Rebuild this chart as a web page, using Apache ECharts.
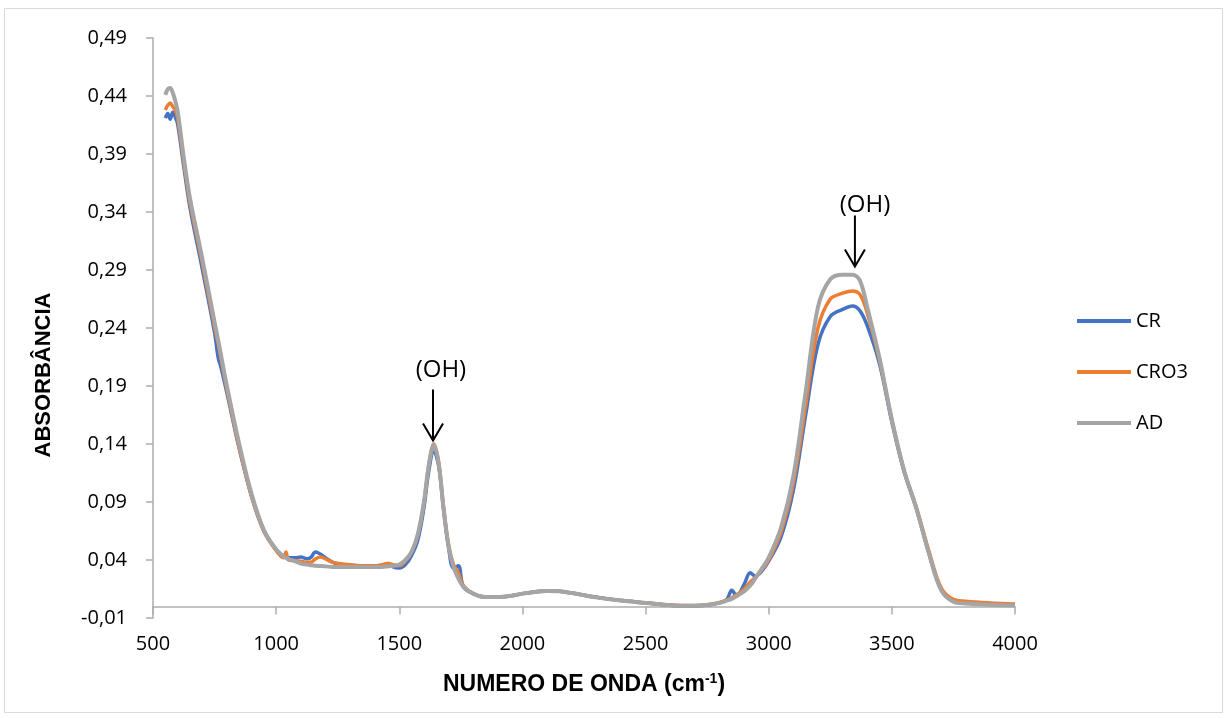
<!DOCTYPE html>
<html>
<head>
<meta charset="utf-8">
<script src="https://cdn.jsdelivr.net/npm/echarts@6/dist/echarts.min.js"></script>
<style>
  html, body { margin: 0; padding: 0; background: #fff; }
  #chart { width: 1228px; height: 718px; }
</style>
</head>
<body>
<div id="chart"></div>
<script>
// wavenumber grid (cm-1)
const wn = [550, 560, 570, 580, 590, 600, 625, 650, 700, 750, 765, 775, 800, 850, 900, 950,
  1000, 1030, 1040, 1050, 1075, 1100, 1125, 1140, 1160, 1180, 1200, 1230, 1270, 1300, 1350, 1400,
  1430, 1455, 1475, 1500, 1525, 1550, 1575, 1600, 1620, 1640, 1660, 1680, 1700, 1720, 1740, 1760,
  1800, 1850, 1900, 1950, 2000, 2050, 2100, 2150, 2200, 2300, 2400, 2500, 2600, 2650, 2700, 2750,
  2800, 2830, 2850, 2870, 2900, 2925, 2945, 2970, 3000, 3050, 3100, 3150, 3200, 3250, 3300, 3340,
  3370, 3400, 3450, 3500, 3550, 3600, 3650, 3700, 3750, 3800, 3900, 4000];

const cr = [0.421, 0.425, 0.420, 0.426, 0.422, 0.416, 0.379, 0.344, 0.291, 0.236, 0.214, 0.207, 0.184, 0.136, 0.095, 0.065,
  0.049, 0.043, 0.042, 0.042, 0.042, 0.0425, 0.041, 0.042, 0.047, 0.045, 0.042, 0.038, 0.036, 0.0355, 0.035, 0.035,
  0.0355, 0.037, 0.034, 0.033, 0.036, 0.044, 0.057, 0.085, 0.117, 0.134, 0.121, 0.083, 0.051, 0.033, 0.035, 0.017,
  0.011, 0.008, 0.008, 0.009, 0.011, 0.0125, 0.0133, 0.013, 0.0115, 0.0078, 0.005, 0.003, 0.001, 0.0005, 0.0006, 0.0012,
  0.003, 0.006, 0.014, 0.009, 0.019, 0.029, 0.026, 0.030, 0.039, 0.060, 0.100, 0.165, 0.226, 0.250, 0.256, 0.259,
  0.255, 0.242, 0.209, 0.159, 0.116, 0.084, 0.046, 0.015, 0.005, 0.003, 0.002, 0.0012];

const cro3 = [0.428, 0.432, 0.434, 0.431, 0.428, 0.421, 0.383, 0.348, 0.296, 0.241, 0.226, 0.215, 0.187, 0.137, 0.095, 0.065,
  0.048, 0.042, 0.047, 0.040, 0.0395, 0.039, 0.038, 0.038, 0.041, 0.0425, 0.041, 0.038, 0.0365, 0.036, 0.035, 0.035,
  0.036, 0.037, 0.036, 0.035, 0.039, 0.047, 0.061, 0.089, 0.122, 0.140, 0.124, 0.085, 0.053, 0.036, 0.029, 0.018,
  0.011, 0.008, 0.008, 0.009, 0.011, 0.0125, 0.0135, 0.013, 0.0115, 0.008, 0.0052, 0.0032, 0.0012, 0.0008, 0.0008, 0.0015,
  0.0035, 0.0055, 0.0075, 0.010, 0.015, 0.021, 0.025, 0.031, 0.040, 0.064, 0.106, 0.173, 0.240, 0.265, 0.270, 0.272,
  0.269, 0.253, 0.212, 0.161, 0.117, 0.085, 0.048, 0.016, 0.006, 0.0045, 0.003, 0.002];

const ad = [0.441, 0.446, 0.447, 0.443, 0.436, 0.427, 0.387, 0.352, 0.300, 0.245, 0.229, 0.218, 0.190, 0.140, 0.097, 0.066,
  0.049, 0.043, 0.042, 0.041, 0.039, 0.037, 0.036, 0.0355, 0.035, 0.0348, 0.0345, 0.034, 0.034, 0.034, 0.034, 0.034,
  0.034, 0.0345, 0.035, 0.036, 0.040, 0.047, 0.062, 0.090, 0.122, 0.139, 0.123, 0.084, 0.052, 0.034, 0.024, 0.017,
  0.011, 0.008, 0.008, 0.009, 0.011, 0.0125, 0.0133, 0.013, 0.0115, 0.0078, 0.005, 0.003, 0.001, 0.0005, 0.0006, 0.0012,
  0.003, 0.005, 0.0065, 0.009, 0.013, 0.018, 0.024, 0.032, 0.042, 0.068, 0.112, 0.185, 0.258, 0.282, 0.286, 0.286,
  0.281, 0.258, 0.214, 0.161, 0.117, 0.084, 0.046, 0.014, 0.004, 0.0025, 0.0015, 0.001];

const seriesNames = ['CR', 'CRO3', 'AD'];
const seriesColors = ['#4472C4', '#ED7D31', '#A5A5A5'];

// arrow annotations "(OH)"
const annoText = ['(OH)', '(OH)'];
const annoX = [1637, 3350];
const annoTop = [0.187, 0.337];
const annoTip = [0.143, 0.293];
const annoLabelX = [1669, 3391];
const annoLabelY = [0.204, 0.346];

const yTicks = { min: -0.01, max: 0.49, step: 0.05 };
const xTicks = { min: 500, max: 4000, step: 500 };

const FONT = '"Open Sans", "Liberation Sans", sans-serif';
const TITLE_FONT = '"Liberation Sans", Arial, sans-serif';

function pairs(ys) {
  return wn.map((x, i) => [x, ys[i]]);
}

const chart = echarts.init(document.getElementById('chart'));

const lines = [cr, cro3, ad].map((ys, i) => ({
  name: seriesNames[i],
  type: 'line',
  data: pairs(ys),
  symbol: 'none',
  smooth: 0.35,
  lineStyle: { color: seriesColors[i], width: i === 2 ? 4 : 3.5 },
  itemStyle: { color: seriesColors[i] },
  z: 2 + i
}));

const annoData = annoText.map((t, i) => [annoX[i], annoTop[i], annoTip[i], annoLabelX[i], annoLabelY[i], t]);

chart.setOption({
  animation: false,
  backgroundColor: '#fff',
  graphic: [{
    type: 'rect',
    shape: { x: 4.5, y: 8.5, width: 1218, height: 704 },
    style: { fill: null, stroke: '#D9D9D9', lineWidth: 1 },
    silent: true
  }],
  grid: { left: 153, right: 213, top: 38, bottom: 100 },
  legend: {
    data: seriesNames,
    orient: 'vertical',
    left: 1077,
    top: 311,
    padding: 0,
    icon: 'rect',
    itemWidth: 54,
    itemHeight: 4,
    itemGap: 31,
    textStyle: { fontFamily: FONT, fontSize: 20, color: '#000' }
  },
  xAxis: {
    type: 'value',
    min: xTicks.min,
    max: xTicks.max,
    interval: xTicks.step,
    name: '{a|NUMERO DE ONDA (cm}{s|-1}{a|)}',
    nameLocation: 'middle',
    nameGap: 54,
    nameTextStyle: {
      rich: {
        a: { fontFamily: TITLE_FONT, fontWeight: 'bold', fontSize: 23, color: '#000', lineHeight: 26 },
        s: { fontFamily: TITLE_FONT, fontWeight: 'bold', fontSize: 14, color: '#000', verticalAlign: 'top', lineHeight: 26, padding: [0, 0, 8, 0] }
      }
    },
    axisLine: { onZero: true, lineStyle: { color: '#ADADAD', width: 1.5 } },
    axisTick: { show: true, length: 8, lineStyle: { color: '#ADADAD', width: 1.5 } },
    axisLabel: { fontFamily: FONT, fontSize: 20, color: '#000', margin: 16, formatter: v => String(v) },
    splitLine: { show: false }
  },
  yAxis: {
    type: 'value',
    min: yTicks.min,
    max: yTicks.max,
    interval: yTicks.step,
    name: 'ABSORBÂNCIA',
    nameLocation: 'middle',
    nameGap: 98,
    nameTextStyle: { fontFamily: TITLE_FONT, fontWeight: 'bold', fontSize: 22, color: '#000', padding: [0, 94, 0, 0] },
    axisLine: { show: true, lineStyle: { color: '#ADADAD', width: 1.5 } },
    axisTick: { show: true, length: 7, lineStyle: { color: '#ADADAD', width: 1.5 } },
    axisLabel: {
      fontFamily: FONT, fontSize: 20, color: '#000', margin: 26,
      formatter: v => v.toFixed(2).replace('.', ',')
    },
    splitLine: { show: false }
  },
  series: lines.concat([{
    name: 'annotations',
    type: 'custom',
    silent: true,
    z: 10,
    data: annoData,
    renderItem: (params, api) => {
      const top = api.coord([api.value(0), api.value(1)]);
      const tip = api.coord([api.value(0), api.value(2)]);
      const lab = api.coord([api.value(3), api.value(4)]);
      return {
        type: 'group',
        children: [
          { type: 'text', style: { text: annoText[params.dataIndex], x: lab[0], y: lab[1], align: 'center', verticalAlign: 'middle', font: '24px ' + FONT, fill: '#000' } },
          { type: 'line', shape: { x1: top[0], y1: top[1], x2: tip[0], y2: tip[1] }, style: { stroke: '#000', lineWidth: 2 } },
          { type: 'polyline', shape: { points: [[tip[0] - 10, tip[1] - 17], [tip[0], tip[1]], [tip[0] + 10, tip[1] - 17]] }, style: { stroke: '#000', lineWidth: 2, fill: null } }
        ]
      };
    }
  }])
});
</script>
</body>
</html>
